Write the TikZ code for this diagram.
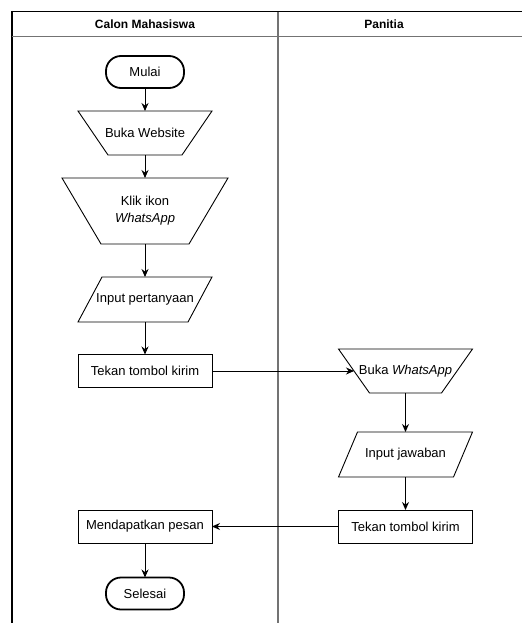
\documentclass[tikz,border=0pt]{standalone}
\usepackage{fontspec}
\setmainfont{Liberation Sans}
\usetikzlibrary{arrows.meta}
\begin{document}
\begin{tikzpicture}[x=1pt,y=-1pt,
  lbl/.style={inner sep=0pt,outer sep=0pt,font=\fontsize{13}{15}\selectfont,align=center},
  boxr/.style={lbl,draw,line width=0.9pt,minimum width=134pt,minimum height=33pt},
  term/.style={lbl,draw,line width=1.8pt,rounded corners=15pt,minimum width=78pt,minimum height=32pt},
  shp/.style={lbl,minimum width=134pt},
  outl/.style={line width=0.9pt,line join=miter},
  arr/.style={line width=0.9pt,-{Stealth[length=8pt,width=7pt]}},
  lane/.style={line width=1.3pt,draw=black!55}]
\useasboundingbox (0,0) rectangle (522,623);
% lanes
\draw[line width=1.2pt] (12,11.5) -- (522,11.5);
\draw[line width=1.2pt] (12,11) -- (12,623);
\draw[lane] (12,36.5) -- (522,36.5);
\draw[lane] (278,12) -- (278,623);
\node[lbl,font=\fontsize{12}{14}\selectfont\bfseries] (h1) at (145,24) {Calon Mahasiswa};
\node[lbl,font=\fontsize{12}{14}\selectfont\bfseries] (h2) at (384,24) {Panitia};
% nodes
\node[term] (mulai) at (145,72) {Mulai};
\node[shp,minimum height=44pt] (bw) at (145,133) {Buka Website};
\draw[outl] (bw.north west) -- (bw.north east) -- ([xshift=-30pt]bw.south east) -- ([xshift=30pt]bw.south west) -- cycle;
\node[shp,minimum width=166pt,minimum height=66pt] (kw) at (145,211) {Klik ikon\\[2pt]\textit{WhatsApp}};
\draw[outl] (kw.north west) -- (kw.north east) -- ([xshift=-39pt]kw.south east) -- ([xshift=39pt]kw.south west) -- cycle;
\node[shp,minimum height=45pt] (ip) at (145,299.5) {Input pertanyaan};
\draw[outl] ([xshift=24pt]ip.north west) -- (ip.north east) -- ([xshift=-24pt]ip.south east) -- (ip.south west) -- cycle;
\node[boxr] (tk1) at (145,371) {Tekan tombol kirim};
\node[shp,minimum height=44pt] (bwa) at (405.5,371) {Buka \textit{WhatsApp}};
\draw[outl] (bwa.north west) -- (bwa.north east) -- ([xshift=-31pt]bwa.south east) -- ([xshift=31pt]bwa.south west) -- cycle;
\node[shp,minimum height=45pt] (ij) at (405.5,454.5) {Input jawaban};
\draw[outl] ([xshift=19pt]ij.north west) -- (ij.north east) -- ([xshift=-19pt]ij.south east) -- (ij.south west) -- cycle;
\node[boxr] (tk2) at (405.5,526.5) {Tekan tombol kirim};
\node[boxr] (mp) at (145,526.5) {Mendapatkan pesan};
\node[term] (sel) at (145,593.5) {Selesai};
% connectors
\draw[arr] (mulai) -- (bw);
\draw[arr] (bw) -- (kw);
\draw[arr] (kw) -- (ip);
\draw[arr] (ip) -- (tk1);
\draw[arr] (tk1) -- ([xshift=15.5pt]bwa.west);
\draw[arr] (bwa) -- (ij);
\draw[arr] (ij) -- (tk2);
\draw[arr] (tk2) -- (mp);
\draw[arr] (mp) -- (sel);
\end{tikzpicture}
\end{document}
